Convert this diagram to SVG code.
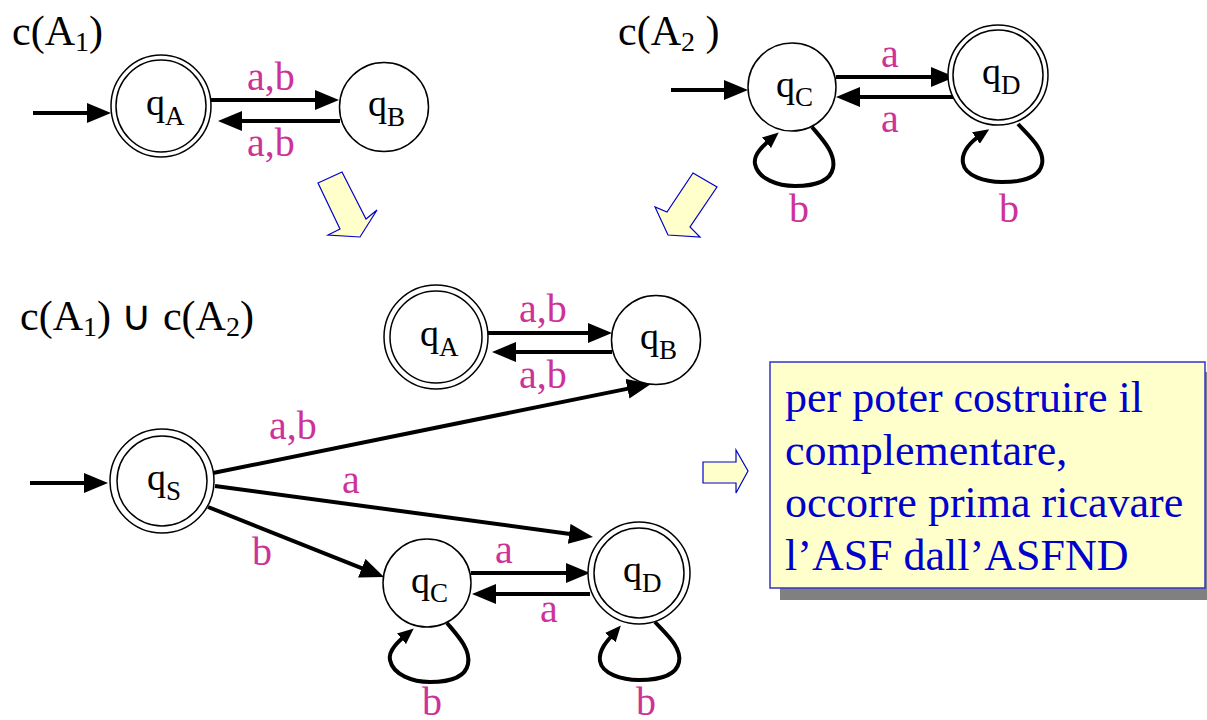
<svg xmlns="http://www.w3.org/2000/svg" width="1207" height="720" viewBox="0 0 1207 720">
  <style>
    text { font-family: "Liberation Serif", "Times New Roman", serif; }
    .st { fill: #fff; stroke: #000; stroke-width: 1.5; }
    .lb { font-size: 38px; fill: #000; }
    .sub { font-size: 27px; }
    .ttl { font-size: 42px; fill: #000; }
    .tsub { font-size: 28px; }
    .sym { font-size: 40px; fill: #CC3399; }
    .edge { fill: none; stroke: #000; stroke-width: 4; marker-end: url(#ah); }
    .loop { fill: none; stroke: #000; stroke-width: 4; marker-end: url(#ahs); }
    .hollow { fill: #FFFFCC; stroke: #0000CC; stroke-width: 1.2; stroke-linejoin: miter; }
    .note { font-size: 44px; fill: #0000CC; }
  </style>
  <defs>
    <marker id="ah" markerUnits="userSpaceOnUse" markerWidth="24" markerHeight="20" refX="12" refY="10" orient="auto">
      <path d="M0,0 L24,10 L0,20 z" fill="#000"/>
    </marker>
    <marker id="ahs" markerUnits="userSpaceOnUse" markerWidth="16" markerHeight="14" refX="8" refY="7" orient="auto">
      <path d="M0,0 L16,7 L0,14 z" fill="#000"/>
    </marker>
  </defs>

  <rect width="1207" height="720" fill="#fff"/>

  <!-- titles -->
  <text class="ttl" x="12" y="45">c(A<tspan class="tsub" dy="6">1</tspan><tspan dy="-6">)</tspan></text>
  <text class="ttl" x="618" y="45">c(A<tspan class="tsub" dy="6">2</tspan><tspan dy="-6"> )</tspan></text>
  <text class="ttl" x="20" y="330" font-size="44">c(A<tspan class="tsub" dy="6">1</tspan><tspan dy="-6">) ∪ c(A</tspan><tspan class="tsub" dy="6">2</tspan><tspan dy="-6">)</tspan></text>

  <!-- connectors -->
  <g id="connectors">
    <!-- c(A1) -->
    <path class="edge" d="M33,113 H99"/>
    <path class="edge" d="M211,100 H327"/>
    <path class="edge" d="M340,121 H230"/>
    <!-- c(A2) -->
    <path class="edge" d="M671,90 H736"/>
    <path class="edge" d="M836,77 H943"/>
    <path class="edge" d="M953,97 H848"/>
    <path class="loop" transform="translate(792,87)" d="M20,40 C30,52 44,66 41,81 C38,96 18,99 3,99 C-14,99 -34,92 -37,77 C-39,67 -27,57 -19.4,50.6"/>
    <path class="loop" transform="translate(998,75)" d="M20,49 C30,60 47,74 44,89 C41,104 20,107 4,107 C-13,107 -33,101 -35,88 C-37,76 -25,65 -15.4,58.6"/>
    <!-- union -->
    <path class="edge" d="M30,483 H96"/>
    <path class="edge" d="M486,333 H600"/>
    <path class="edge" d="M612,352 H504"/>
    <path class="edge" d="M213,473 L639.2,386.4"/>
    <path class="edge" d="M215,486 L581.1,535.4"/>
    <path class="edge" d="M208,507 L372.9,572.6"/>
    <path class="edge" d="M471,573 H578"/>
    <path class="edge" d="M590,594 H484"/>
    <path class="loop" transform="translate(427,583)" d="M20,40 C30,52 44,66 41,81 C38,96 18,99 3,99 C-14,99 -34,92 -37,77 C-39,67 -27,57 -19.4,50.6"/>
    <path class="loop" transform="translate(639,573)" d="M16,49 C26,60 43,74 40,89 C37,104 16,107 0,107 C-17,107 -37,101 -39,88 C-41,76 -29,65 -23.4,58.6"/>
  </g>

  <!-- transition labels -->
  <g id="edge-labels">
    <text class="sym" x="247" y="90">a,b</text>
    <text class="sym" x="247" y="156">a,b</text>
    <text class="sym" x="881" y="67">a</text>
    <text class="sym" x="881" y="132">a</text>
    <text class="sym" x="789" y="222">b</text>
    <text class="sym" x="999" y="222">b</text>
    <text class="sym" x="519" y="322">a,b</text>
    <text class="sym" x="519" y="388">a,b</text>
    <text class="sym" x="269" y="439">a,b</text>
    <text class="sym" x="342" y="493">a</text>
    <text class="sym" x="252" y="565">b</text>
    <text class="sym" x="495" y="563">a</text>
    <text class="sym" x="540" y="622">a</text>
    <text class="sym" x="422" y="715">b</text>
    <text class="sym" x="636" y="715">b</text>
  </g>

  <!-- c(A1) states -->
  <g id="A1-qA">
    <ellipse class="st" cx="161" cy="106" rx="50" ry="51"/>
    <ellipse class="st" cx="161" cy="106" rx="45" ry="46"/>
    <text class="lb" x="146" y="115">q<tspan class="sub" dy="10">A</tspan></text>
  </g>
  <g id="A1-qB">
    <circle class="st" cx="384" cy="107" r="44.5"/>
    <text class="lb" x="368" y="116">q<tspan class="sub" dy="10">B</tspan></text>
  </g>

  <!-- c(A2) states -->
  <g id="A2-qC">
    <circle class="st" cx="792" cy="87" r="44"/>
    <text class="lb" x="776" y="97">q<tspan class="sub" dy="9">C</tspan></text>
  </g>
  <g id="A2-qD">
    <circle class="st" cx="998" cy="75" r="50"/>
    <circle class="st" cx="998" cy="75" r="45"/>
    <text class="lb" x="982" y="84">q<tspan class="sub" dy="10">D</tspan></text>
  </g>

  <!-- union states -->
  <g id="U-qA">
    <ellipse class="st" cx="436" cy="337" rx="52" ry="52"/>
    <ellipse class="st" cx="436" cy="337" rx="46" ry="46"/>
    <text class="lb" x="420" y="346">q<tspan class="sub" dy="10">A</tspan></text>
  </g>
  <g id="U-qB">
    <circle class="st" cx="656" cy="340" r="44.5"/>
    <text class="lb" x="640" y="349">q<tspan class="sub" dy="10">B</tspan></text>
  </g>
  <g id="U-qS">
    <circle class="st" cx="162" cy="481" r="52"/>
    <circle class="st" cx="162" cy="481" r="45"/>
    <text class="lb" x="147" y="490">q<tspan class="sub" dy="10">S</tspan></text>
  </g>
  <g id="U-qC">
    <circle class="st" cx="427" cy="583" r="44"/>
    <text class="lb" x="411" y="593">q<tspan class="sub" dy="9">C</tspan></text>
  </g>
  <g id="U-qD">
    <circle class="st" cx="639" cy="573" r="51"/>
    <circle class="st" cx="639" cy="573" r="45"/>
    <text class="lb" x="623" y="582">q<tspan class="sub" dy="10">D</tspan></text>
  </g>

  <!-- block arrows -->
  <g id="block-arrow-1">
    <polygon class="hollow" points="318,183 342,172 366,219 377,210 360,237 328,235 340,229"/>
  </g>
  <g id="block-arrow-2">
    <polygon class="hollow" points="693,173 717,187 690,227 700,237 668,235 655,207 667,212"/>
  </g>
  <g id="block-arrow-3">
    <polygon class="hollow" points="703,462 736,462 736,450 748,471 736,493 736,483 703,483"/>
  </g>

  <!-- note box -->
  <g id="note">
    <rect x="780" y="372" width="430" height="228" fill="#808080"/>
    <rect x="770" y="362" width="435" height="226" fill="#FFFFCC" stroke="#3333CC" stroke-width="1.5"/>
    <text class="note" x="785" y="412">per poter costruire il</text>
    <text class="note" x="785" y="465">complementare,</text>
    <text class="note" x="785" y="517">occorre prima ricavare</text>
    <text class="note" x="785" y="570">l’ASF dall’ASFND</text>
  </g>
</svg>
